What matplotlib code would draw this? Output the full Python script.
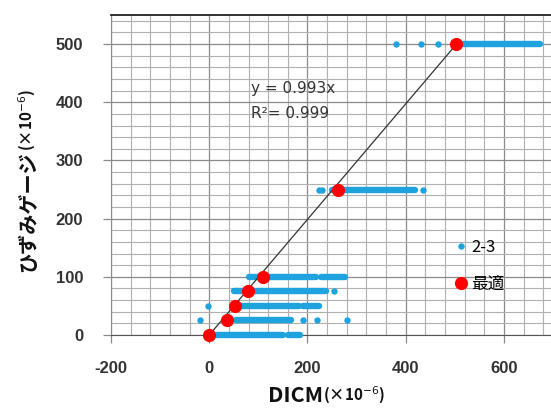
import matplotlib
matplotlib.use("Agg")
import matplotlib.pyplot as plt
from matplotlib.lines import Line2D
from matplotlib.ticker import MultipleLocator

plt.rcParams["font.family"] = ["Noto Sans CJK JP", "DejaVu Sans"]
plt.rcParams["axes.unicode_minus"] = False

# measured levels (ひずみゲージ) for the rows of the scatter
gauge_levels = [0, 25, 50, 75, 100, 250, 500]

# "2-3" series: dense runs of points (start, end) and isolated points per level
runs_23 = {
    0: [(16, 150), (160, 184)],
    25: [(55, 167)],
    50: [(65, 182), (190, 224)],
    75: [(51, 238)],
    100: [(82, 218), (228, 276)],
    250: [(249, 418)],
    500: [(514, 673)],
}
points_23 = {
    0: [],
    25: [-18, 190, 220, 280],
    50: [-2],
    75: [255],
    100: [],
    250: [224, 230, 435],
    500: [381, 432, 465],
}

# "最適" series
best_x = [0, 36, 52, 78, 110, 262, 502]
best_y = [0, 25, 50, 75, 100, 250, 500]

slope = 0.993
r2 = 0.999

blue = "#1ea3df"
red = "#ff0000"

fig = plt.figure(figsize=(5.51, 4.08), dpi=100)
ax = fig.add_axes([111 / 551, 1 - 335 / 408, 442 / 551, 320 / 408])

for y in gauge_levels:
    for x0, x1 in runs_23[y]:
        ax.plot([x0, x1], [y, y], color=blue, lw=4.6,
                solid_capstyle="round", clip_on=False, zorder=3)
    if points_23[y]:
        ax.plot(points_23[y], [y] * len(points_23[y]), "o", color=blue,
                ms=4.6, mew=0, clip_on=False, zorder=3)

ax.plot([0, best_x[-1]], [0, slope * best_x[-1]], color="#333333",
        lw=0.9, zorder=4)

ax.plot(best_x, best_y, "o", color=red, ms=9.5, mew=0, clip_on=False,
        zorder=5)

ax.text(170, 424, f"y = {slope}x", ha="center", va="center",
        fontsize=11, color="#333333", family=["DejaVu Sans"])
ax.text(164, 381, f"R²= {r2}", ha="center", va="center",
        fontsize=11, color="#333333", family=["DejaVu Sans"])

ax.set_xlim(-200, 700)
ax.set_ylim(0, 550)
ax.xaxis.set_major_locator(MultipleLocator(200))
ax.xaxis.set_minor_locator(MultipleLocator(40))
ax.yaxis.set_major_locator(MultipleLocator(100))
ax.yaxis.set_minor_locator(MultipleLocator(20))

ax.grid(which="major", color="#8a8a8a", lw=0.9)
ax.grid(which="minor", color="#b0b0b0", lw=0.8)
ax.set_axisbelow(True)

ax.tick_params(which="major", direction="out", length=6, width=0.9,
               color="#8a8a8a", labelsize=12, labelcolor="#333333")
ax.tick_params(axis="y", which="major", pad=14)
ax.tick_params(axis="x", which="major", pad=13)
ax.tick_params(which="minor", length=0)
for lab in ax.get_xticklabels() + ax.get_yticklabels():
    lab.set_family(["Liberation Sans"])
    lab.set_fontweight("bold")

for side in ["left", "bottom"]:
    ax.spines[side].set_color("#8a8a8a")
ax.spines["bottom"].set_color("#555555")
ax.spines["top"].set_color("#222222")
ax.spines["top"].set_linewidth(1.3)
ax.spines["right"].set_visible(False)

# axis titles: main word large, unit part smaller
xl = fig.text(268 / 551, 1 - 402 / 408, "DICM", fontsize=15.5,
              fontweight="bold", ha="left", va="baseline", color="#111111")
fig.canvas.draw()
ax.annotate("(×10$^{-6}$)", xy=(1, 0), xycoords=xl, ha="left",
            va="bottom", fontsize=11, fontweight="bold", color="#111111",
            annotation_clip=False)

yl = fig.text(28 / 551, 1 - 272 / 408, "ひずみゲージ", fontsize=14.5,
              fontweight="bold", rotation=90, ha="center", va="bottom",
              color="#111111")
fig.canvas.draw()
ax.annotate("(×10$^{-6}$)", xy=(1, 1), xycoords=yl, ha="right",
            va="bottom", fontsize=11, fontweight="bold", rotation=90,
            color="#111111", annotation_clip=False)

handles = [
    Line2D([], [], marker="o", ls="", color=blue, ms=4.6, mew=0),
    Line2D([], [], marker="o", ls="", color=red, ms=9.5, mew=0),
]
ax.legend(handles, ["2-3", "最適"], loc="center left",
          bbox_to_anchor=(0.74, 0.215), frameon=False, fontsize=12,
          labelspacing=1.2, handletextpad=0.1, handlelength=1.0)

fig.savefig("out.png", dpi=100)
